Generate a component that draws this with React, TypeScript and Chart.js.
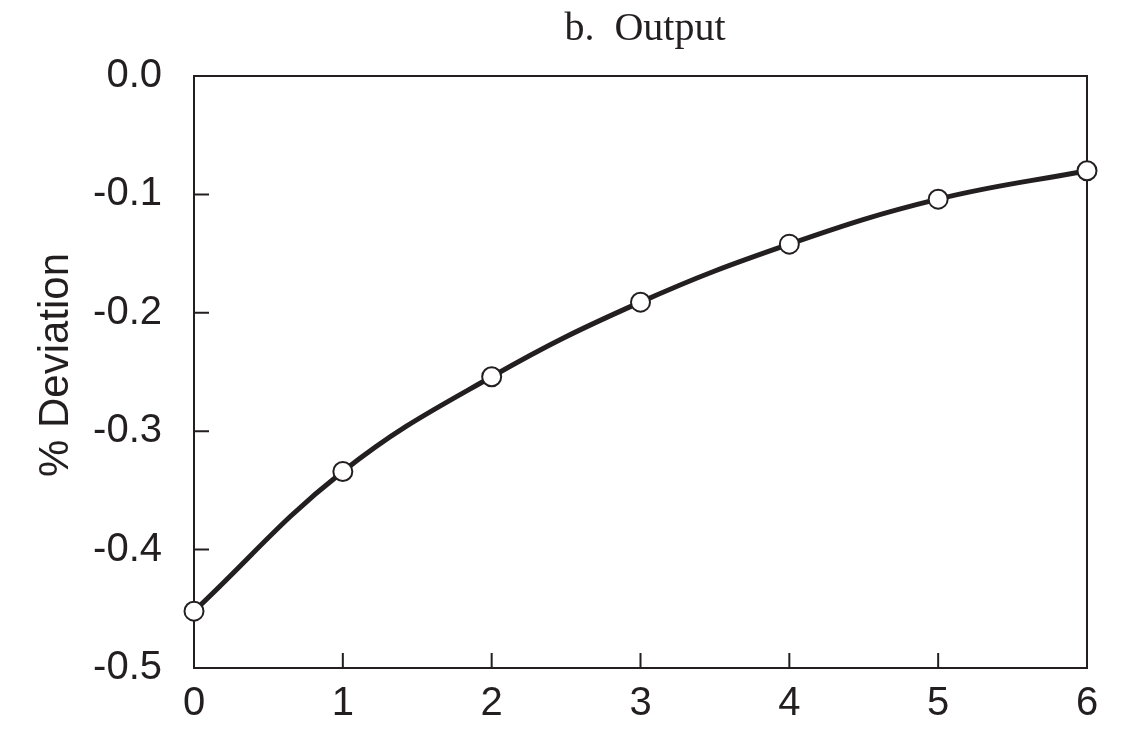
import React, { useEffect, useRef } from "react";
import { Chart, registerables } from "chart.js";

Chart.register(...registerables);

const periods: number[] = [0, 1, 2, 3, 4, 5, 6];
const deviation: number[] = [-0.452, -0.334, -0.254, -0.191, -0.142, -0.104, -0.08];
const yTicks: number[] = [0, -0.1, -0.2, -0.3, -0.4, -0.5];
const titleText = "b.  Output";
const yAxisTitle = "% Deviation";

const INK = "#231f20";
const SANS = "'Liberation Sans', Arial, Helvetica, sans-serif";
const SERIF = "'Liberation Serif', 'Times New Roman', serif";

const framePlugin = {
  id: "frame",
  beforeDatasetsDraw(chart: any) {
    const { ctx, chartArea } = chart;
    const { left, right, top, bottom } = chartArea;
    const xs = chart.scales.x;
    const ys = chart.scales.y;
    ctx.save();
    ctx.strokeStyle = INK;
    ctx.lineWidth = 2;
    ctx.strokeRect(left, top, right - left, bottom - top);
    const tl = 15;
    ctx.beginPath();
    periods.forEach((p) => {
      if (p === periods[0] || p === periods[periods.length - 1]) return;
      const px = xs.getPixelForValue(p);
      ctx.moveTo(px, bottom);
      ctx.lineTo(px, bottom - tl);
    });
    yTicks.forEach((v, i) => {
      if (i === 0 || i === yTicks.length - 1) return;
      const py = ys.getPixelForValue(v);
      ctx.moveTo(left, py);
      ctx.lineTo(left + tl, py);
    });
    ctx.stroke();
    // title
    ctx.fillStyle = INK;
    ctx.font = `40px ${SERIF}`;
    ctx.textAlign = "center";
    ctx.textBaseline = "alphabetic";
    ctx.fillText(titleText, 645, 40);
    // y axis title
    ctx.font = `42px ${SANS}`;
    ctx.translate(68, 365);
    ctx.rotate(-Math.PI / 2);
    ctx.fillText(yAxisTitle, 0, 0);
    ctx.restore();
  },
};

export default function App() {
  const ref = useRef<HTMLCanvasElement | null>(null);
  useEffect(() => {
    if (!ref.current) return;
    const chart = new Chart(ref.current, {
      type: "line",
      data: {
        datasets: [
          {
            data: periods.map((p, i) => ({ x: p, y: deviation[i] })),
            borderColor: INK,
            borderWidth: 5,
            tension: 0.4,
            pointRadius: 9.5,
            pointBackgroundColor: "#ffffff",
            pointBorderColor: INK,
            pointBorderWidth: 2,
            clip: false as any,
          },
        ],
      },
      options: {
        animation: false,
        responsive: false,
        maintainAspectRatio: false,
        layout: { padding: { top: 76, right: 38, left: 0, bottom: 0 } },
        plugins: { legend: { display: false }, tooltip: { enabled: false }, title: { display: false } },
        scales: {
          x: {
            type: "linear",
            min: 0,
            max: 6,
            grid: { display: false, drawTicks: false },
            border: { display: false },
            ticks: {
              stepSize: 1,
              color: INK,
              font: { family: SANS, size: 40 },
              padding: 12,
            },
            afterFit: (s: any) => {
              s.height = 71;
            },
          },
          y: {
            type: "linear",
            min: -0.5,
            max: 0,
            grid: { display: false, drawTicks: false },
            border: { display: false },
            ticks: {
              stepSize: 0.1,
              color: INK,
              font: { family: SANS, size: 40 },
              padding: 32,
              callback: (v: any) => Number(v).toFixed(1),
            },
            afterFit: (s: any) => {
              s.width = 194;
            },
          },
        },
      },
      plugins: [framePlugin],
    });
    return () => chart.destroy();
  }, []);
  return (
    <div style={{ position: "fixed", left: 0, top: 0, width: 1125, height: 739, background: "#fff" }}>
      <canvas ref={ref} width={1125} height={739} style={{ display: "block" }} />
    </div>
  );
}
